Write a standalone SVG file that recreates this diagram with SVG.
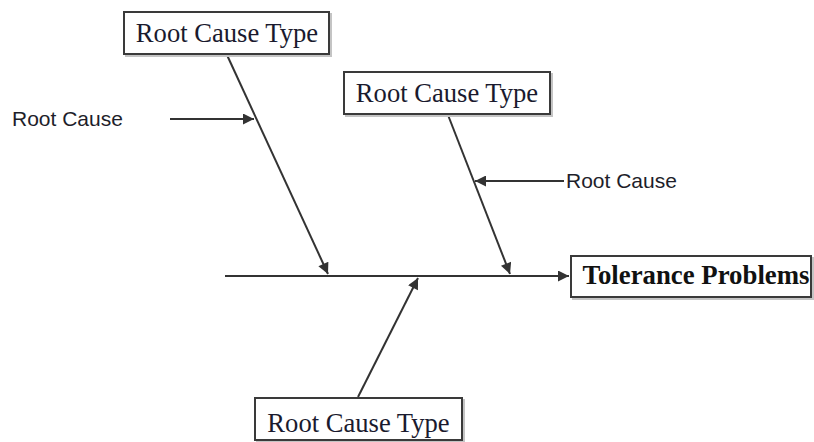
<svg xmlns="http://www.w3.org/2000/svg" width="814" height="442" viewBox="0 0 814 442">
<style>
.box{fill:#fff;stroke:#3a3a3a;stroke-width:2}
.shadow{fill:none;stroke:#c4c4c4;stroke-width:2}
.type{font-family:"Liberation Serif","Times New Roman",serif;font-size:26.6px;fill:#1a1a2e;text-anchor:middle}
.prob{font-family:"Liberation Serif","Times New Roman",serif;font-size:26.8px;font-weight:bold;fill:#111;text-anchor:middle}
.cause{font-family:"Liberation Sans",Arial,sans-serif;font-size:21px;fill:#1e1e2a}
.ln{stroke:#333;stroke-width:2;fill:none}
</style>
<defs>
<marker id="ah" viewBox="0 0 10 10" refX="10" refY="5" markerWidth="6" markerHeight="5.5" orient="auto" markerUnits="strokeWidth">
<path d="M0,0 L10,5 L0,10 z" fill="#333"/>
</marker>
</defs>
<g id="connectors">
<line class="ln" x1="225" y1="276" x2="569" y2="276" marker-end="url(#ah)"/>
<line class="ln" x1="227" y1="55" x2="328" y2="274" marker-end="url(#ah)"/>
<line class="ln" x1="448" y1="115" x2="510" y2="274" marker-end="url(#ah)"/>
<line class="ln" x1="358" y1="397" x2="418" y2="278" marker-end="url(#ah)"/>
<line class="ln" x1="170" y1="119" x2="254" y2="119" marker-end="url(#ah)"/>
<line class="ln" x1="564" y1="181" x2="475" y2="181" marker-end="url(#ah)"/>
</g>
<g id="type1">
<rect class="shadow" x="126" y="14" width="205" height="42"/>
<rect class="box" x="124" y="12" width="205" height="42"/>
<text class="type" x="227" y="42">Root Cause Type</text>
</g>
<g id="type2">
<rect class="shadow" x="346" y="74" width="206" height="42"/>
<rect class="box" x="344" y="72" width="206" height="42"/>
<text class="type" x="447" y="102">Root Cause Type</text>
</g>
<g id="type3">
<rect class="shadow" x="257" y="400" width="207" height="42"/>
<rect class="box" x="255" y="398" width="207" height="42"/>
<text class="type" x="358.5" y="432">Root Cause Type</text>
</g>
<g id="problem">
<rect class="shadow" x="573" y="258" width="240" height="41"/>
<rect class="box" x="571" y="256" width="240" height="41"/>
<text class="prob" x="696" y="284">Tolerance Problems</text>
</g>
<g id="cause1">
<text class="cause" x="12" y="126">Root Cause</text>
</g>
<g id="cause2">
<text class="cause" x="566" y="188">Root Cause</text>
</g>
</svg>
